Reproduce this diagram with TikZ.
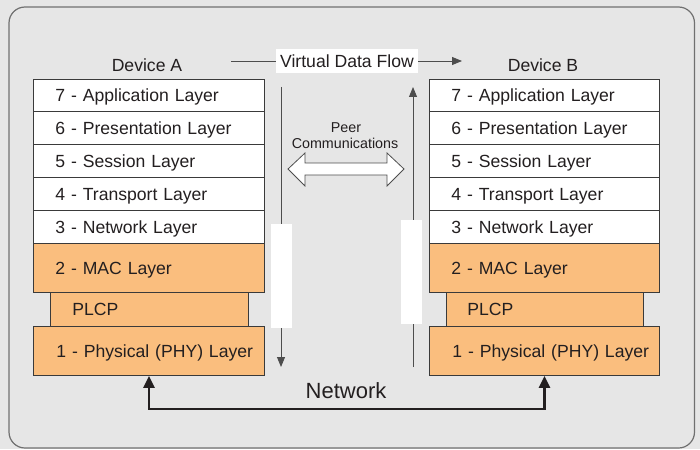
\documentclass[tikz,border=0pt]{standalone}
\usepackage{fontspec}
\setmainfont{Liberation Sans}
\usetikzlibrary{arrows.meta}
\definecolor{bg}{HTML}{E6E6E6}
\definecolor{framec}{HTML}{707070}
\definecolor{orng}{HTML}{FABE7E}
\definecolor{ink}{HTML}{231F20}
\definecolor{edgec}{HTML}{3A3A3A}
\definecolor{linec}{HTML}{4D4D4D}
\begin{document}
\begin{tikzpicture}[x=1pt,y=-1pt,
  every node/.style={font=\fontsize{17.6}{20}\selectfont, text=ink},
  layer/.style={draw=edgec, line width=0.9pt, anchor=north west, inner xsep=0pt, inner ysep=0pt,
                align=left, text height=12.6pt, text depth=0pt},
  lpad/.style={execute at begin node={\hspace*{#1}}},
  wlayer/.style={layer, fill=white, lpad=22pt},
  olayer/.style={layer, fill=orng},
  flow/.style={draw=linec, line width=0.9pt},
  flowarrow/.style={flow, -{Triangle[length=10pt,width=8pt]}},
  netarrow/.style={draw=ink, line width=2.5pt, {Triangle[length=12pt,width=11pt]}-{Triangle[length=12pt,width=11pt]}},
  occluder/.style={fill=white, draw=none},
  lbl/.style={anchor=base, inner sep=0pt},
]
\useasboundingbox (0,0) rectangle (700,449);
\fill[bg] (0,0) rectangle (700,449);
\draw[framec, line width=1.2pt, rounded corners=16pt] (9,7) rectangle (694.5,448);

% Device A
\node[lbl] (devA) at (147,72) {Device A};
\node[wlayer, minimum width=231pt, text width=231pt, minimum height=32pt] (a7) at (33,79) {7 - Application Layer};
\node[wlayer, minimum width=231pt, text width=231pt, minimum height=33pt] (a6) at (33,111) {6 - Presentation Layer};
\node[wlayer, minimum width=231pt, text width=231pt, minimum height=33pt] (a5) at (33,144) {5 - Session Layer};
\node[wlayer, minimum width=231pt, text width=231pt, minimum height=33pt] (a4) at (33,177) {4 - Transport Layer};
\node[wlayer, minimum width=231pt, text width=231pt, minimum height=33pt] (a3) at (33,210) {3 - Network Layer};
\node[olayer, lpad=22pt, minimum width=231pt, text width=231pt, minimum height=49pt] (a2) at (33,243) {2 - MAC Layer};
\node[olayer, lpad=22pt, minimum width=198pt, text width=198pt, minimum height=34pt] (aplcp) at (50,292) {PLCP};
\node[olayer, lpad=23pt, minimum width=231pt, text width=231pt, minimum height=49pt] (a1) at (33,326) {1 - Physical (PHY) Layer};

% Device B
\node[lbl] (devB) at (543,72) {Device B};
\node[wlayer, minimum width=230pt, text width=230pt, minimum height=32pt] (b7) at (429,79) {7 - Application Layer};
\node[wlayer, minimum width=230pt, text width=230pt, minimum height=33pt] (b6) at (429,111) {6 - Presentation Layer};
\node[wlayer, minimum width=230pt, text width=230pt, minimum height=33pt] (b5) at (429,144) {5 - Session Layer};
\node[wlayer, minimum width=230pt, text width=230pt, minimum height=33pt] (b4) at (429,177) {4 - Transport Layer};
\node[wlayer, minimum width=230pt, text width=230pt, minimum height=33pt] (b3) at (429,210) {3 - Network Layer};
\node[olayer, lpad=22pt, minimum width=230pt, text width=230pt, minimum height=49pt] (b2) at (429,243) {2 - MAC Layer};
\node[olayer, lpad=21pt, minimum width=197pt, text width=197pt, minimum height=34pt] (bplcp) at (446,292) {PLCP};
\node[olayer, lpad=23pt, minimum width=230pt, text width=230pt, minimum height=49pt] (b1) at (429,326) {1 - Physical (PHY) Layer};

% Virtual data flow
\node[fill=white, minimum width=142pt, minimum height=24pt, inner sep=0pt, text height=12.9pt, text depth=0pt] (vdf) at (347,61) {Virtual Data Flow};
\coordinate (vdfL) at (231,61);
\coordinate (vdfR) at (462,61);
\draw[flow] (vdfL) -- (vdf.west);
\draw[flowarrow] (vdf.east) -- (vdfR);

% vertical flows
\coordinate (downTop) at (281,87);
\coordinate (downBot) at (281,367);
\coordinate (upBot) at (413,367);
\coordinate (upTop) at (413,87);
\draw[flowarrow] (downTop) -- (downBot);
\draw[flowarrow] (upBot) -- (upTop);
\fill[occluder] (271,224) rectangle (292,328);
\fill[occluder] (401,220) rectangle (422,324);

% peer communications
\node[lbl, font=\fontsize{14.3}{17}\selectfont] (peer1) at (346,132) {Peer};
\node[lbl, font=\fontsize{14.3}{17}\selectfont] (peer2) at (345,149) {Communications};
\draw[draw=linec, line width=0.8pt, fill=white, line join=miter]
  (288,169) -- (305,153) -- (305,163) -- (387,163) -- (387,153) -- (404,169)
  -- (387,186) -- (387,175) -- (305,175) -- (305,186) -- cycle;

% network
\draw[netarrow] (a1.south) -- ++(0,33) -| (b1.south);
\node[lbl, font=\fontsize{22}{26}\selectfont] (net) at (346,398) {Network};
\end{tikzpicture}
\end{document}
